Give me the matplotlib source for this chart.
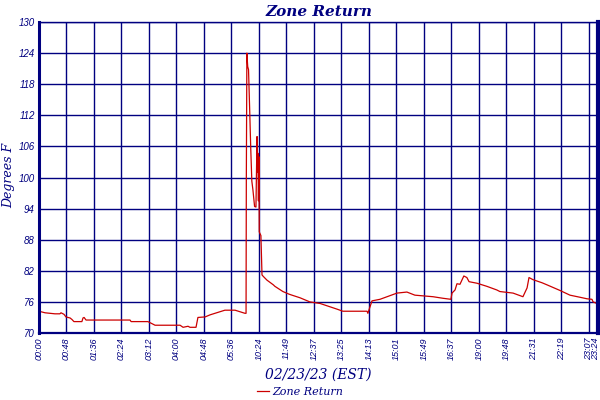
import matplotlib
matplotlib.use("agg")
import matplotlib.pyplot as plt
import matplotlib.transforms as mtransforms
import numpy as np

# x positions are in tick slots (one slot per labelled interval)
slot = [
    0.00, 0.22, 0.58, 0.76, 0.80, 0.91, 0.98, 1.13, 1.20, 1.27, 1.56, 1.60,
    1.64, 1.71, 3.31, 3.35, 3.96, 4.11, 4.22, 5.13, 5.24, 5.42, 5.49, 5.71,
    5.78, 6.04, 6.22, 6.58, 6.76, 7.13, 7.31, 7.49, 7.53, 7.54, 7.56, 7.59,
    7.62, 7.66, 7.70, 7.74, 7.78, 7.84, 7.89, 7.91, 7.93, 7.95, 7.96, 7.98,
    8.00, 8.01, 8.07, 8.09, 8.11, 8.16, 8.29, 8.52, 8.58, 8.87, 9.09, 9.20,
    9.49, 9.85, 10.22, 10.84, 11.05, 11.93, 11.96, 12.11, 12.40, 13.02, 13.38,
    13.67, 14.33, 14.69, 14.98, 15.02, 15.13, 15.20, 15.31, 15.38, 15.45,
    15.56, 15.64, 15.93, 16.29, 16.65, 16.76, 17.24, 17.60, 17.75, 17.82,
    17.96, 18.29, 18.47, 18.95, 19.31, 19.67, 19.93, 20.11, 20.15, 20.33,
]
zone_return = [
    74.2, 73.9, 73.7, 73.7, 73.9, 73.6, 73.1, 72.9, 72.6, 72.2, 72.2, 72.9,
    73.0, 72.5, 72.5, 72.2, 72.2, 71.8, 71.5, 71.5, 71.1, 71.3, 71.1, 71.1,
    73.0, 73.1, 73.5, 74.1, 74.4, 74.4, 74.1, 73.8, 73.8, 99.6, 124.0, 121.4,
    120.8, 113.4, 105.7, 99.3, 97.6, 94.4, 94.3, 101.4, 107.9, 101.0, 104.7, 95.5,
    104.0, 89.5, 88.8, 85.0, 81.2, 80.9, 80.2, 79.3, 79.0, 78.0, 77.5, 77.3,
    76.8, 76.0, 75.7, 74.6, 74.2, 74.2, 73.8, 76.2, 76.5, 77.7, 77.9,
    77.3, 77.0, 76.7, 76.5, 77.7, 78.3, 79.5, 79.4, 80.2, 81.0,
    80.7, 79.9, 79.6, 79.0, 78.3, 78.0, 77.7, 77.0, 78.7, 80.7,
    80.3, 79.7, 79.3, 78.2, 77.3, 76.9, 76.6, 76.5, 76.0, 75.6,
]

time_labels = [
    "00:00", "00:48", "01:36", "02:24", "03:12", "04:00", "04:48", "05:36",
    "10:24", "11:49", "12:37", "13:25", "14:13", "15:01", "15:49", "16:37",
    "19:00", "19:48", "21:31", "22:19", "23:07", "23:24",
]
tick_slots = list(range(21)) + [20.33]
y_ticks = [70, 76, 82, 88, 94, 100, 106, 112, 118, 124, 130]

navy = "#000080"
red = "#CC0000"

fig = plt.figure(figsize=(6, 4), dpi=100)
ax = fig.add_axes([0.065, 0.1675, 0.9317, 0.7775])

ax.plot(slot, zone_return, color=red, linewidth=0.9, label="Zone Return")

ax.set_xlim(0, 20.33)
ax.set_ylim(70, 130)
ax.set_xticks(tick_slots)
ax.set_xticklabels(time_labels, rotation=90, fontsize=6.5, fontstyle="italic",
                   family="Liberation Sans", color=navy)
ax.set_yticks(y_ticks)
ax.set_yticklabels([str(v) for v in y_ticks], fontsize=7, fontstyle="italic",
                   family="Liberation Sans", color=navy)
ax.tick_params(length=0, pad=3)

# last label sits on the right edge, nudge it inside the figure
last = ax.get_xticklabels()[-1]
last.set_transform(last.get_transform() +
                   mtransforms.ScaledTranslation(-2 / 100, 0, fig.dpi_scale_trans))

ax.grid(True, color=navy, linewidth=1.0)
ax.set_axisbelow(True)
ax.spines["left"].set_linewidth(2.2)
ax.spines["right"].set_linewidth(3.0)
ax.spines["bottom"].set_linewidth(1.6)
ax.spines["top"].set_linewidth(1.0)
for s in ax.spines.values():
    s.set_color(navy)

ax.set_title("Zone Return", fontsize=11, fontstyle="italic", fontweight="bold",
             family="DejaVu Serif", color=navy, pad=4)
fig.text(0.014, 0.5625, "Degrees F", rotation=90, ha="center", va="center",
         fontsize=9, fontstyle="italic", family="DejaVu Serif", color=navy)
ax.set_xlabel("02/23/23 (EST)", fontsize=10, fontstyle="italic",
              family="DejaVu Serif", color=navy, labelpad=6)

leg = fig.legend(loc="center", bbox_to_anchor=(0.5, 0.02), frameon=False,
                 handlelength=1.1, handletextpad=0.3,
                 prop={"family": "DejaVu Serif", "style": "italic", "size": 8})
for t in leg.get_texts():
    t.set_color(navy)

fig.savefig("out.png", dpi=100)
